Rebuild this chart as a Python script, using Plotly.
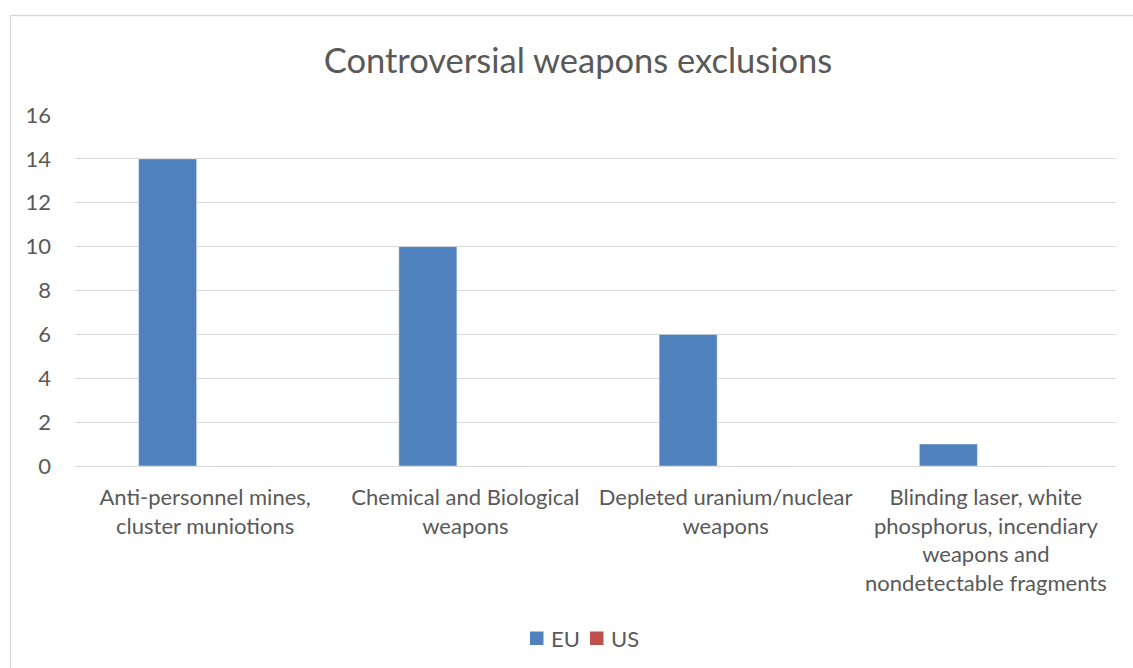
import plotly.graph_objects as go

# Chart data
categories = [
    "Anti-personnel mines,<br>cluster muniotions",
    "Chemical and Biological<br>weapons",
    "Depleted uranium/nuclear<br>weapons",
    "Blinding laser, white<br>phosphorus, incendiary<br>weapons and<br>nondetectable fragments",
]
series_names = ["EU", "US"]
eu_values = [14, 10, 6, 1]
us_values = [0, 0, 0, 0]
series_colors = ["#4f81bd", "#c0504d"]
y_ticks = [0, 2, 4, 6, 8, 10, 12, 14, 16]

W, H = 1133, 668
L, R, T, B = 75, 17, 115, 202
pw, ph = W - L - R, H - T - B

FONT = "Lato"
GREY = "#595959"

fig = go.Figure()
for name, vals, col in zip(series_names, [eu_values, us_values], series_colors):
    fig.add_trace(go.Bar(name=name, x=categories, y=vals, marker_color=col, showlegend=False))


def px_x(v):
    return (v - L) / pw


def px_y(v):
    return 1 - (v - T) / ph


# Outer chart frame (left and top edges visible)
fig.add_shape(type="rect", xref="paper", yref="paper",
              x0=px_x(10.5), x1=px_x(W + 20), y0=px_y(H + 20), y1=px_y(15.5),
              line=dict(color="#d9d9d9", width=1.3), layer="below")

# Legend: colour swatch followed by series name, centred under the chart
legend_x = [530, 590]
for name, col, x0 in zip(series_names, series_colors, legend_x):
    fig.add_shape(type="rect", xref="paper", yref="paper",
                  x0=px_x(x0), x1=px_x(x0 + 13.5), y0=px_y(645), y1=px_y(631.5),
                  line=dict(width=0), fillcolor=col)
    fig.add_annotation(text=name, xref="paper", yref="paper",
                       x=px_x(x0 + 18.5), y=px_y(638), xanchor="left", yanchor="middle",
                       showarrow=False, font=dict(family=FONT, size=22, color=GREY))

fig.update_layout(
    width=W, height=H,
    margin=dict(l=L, r=R, t=T, b=B, pad=0),
    paper_bgcolor="white", plot_bgcolor="white",
    barmode="group", bargap=0.4236, bargroupgap=0.227,
    font=dict(family=FONT, color=GREY, size=22),
    title=dict(text="Controversial weapons exclusions", x=578 / W, xanchor="center",
               y=1 - 61 / H, yanchor="middle",
               font=dict(family=FONT, size=34.5, color=GREY)),
    xaxis=dict(showgrid=False, showline=False, ticks="", tickfont=dict(size=22),
               ticklabelstandoff=16),
    yaxis=dict(range=[0, 16], tickvals=y_ticks, showgrid=True, gridcolor="#d9d9d9",
               gridwidth=1.3, zeroline=True, zerolinecolor="#d9d9d9", zerolinewidth=1.3,
               showline=False, ticks="", tickfont=dict(size=22), ticklabelstandoff=23),
    showlegend=False,
)

fig.write_html("out.html")
